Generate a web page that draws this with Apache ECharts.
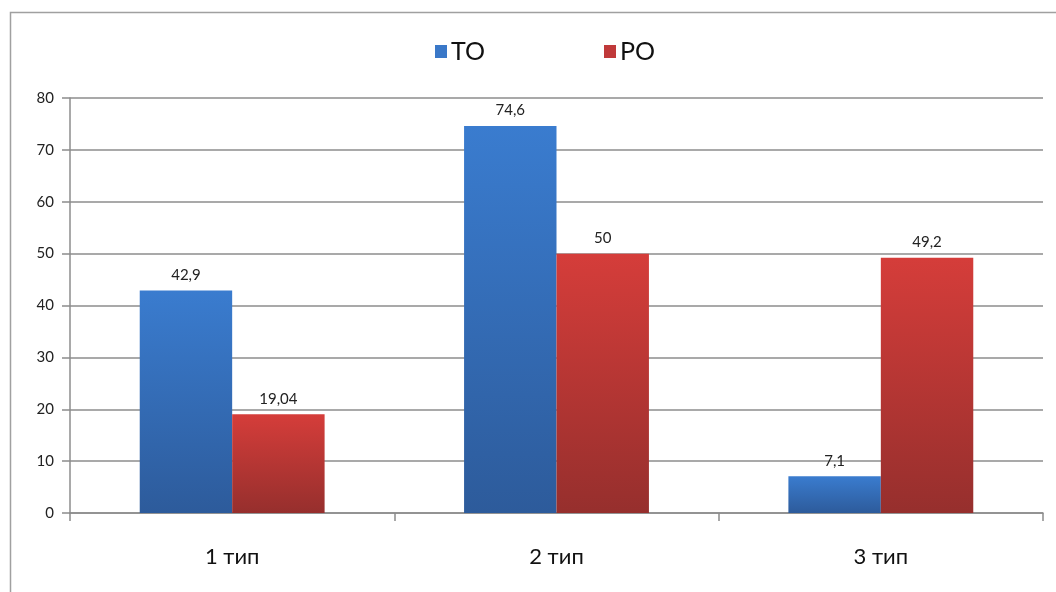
<!DOCTYPE html>
<html>
<head>
<meta charset="utf-8">
<script src="https://cdn.jsdelivr.net/npm/echarts@6/dist/echarts.min.js"></script>
<style>html,body{margin:0;padding:0;background:#fff}#c{width:1056px;height:592px}</style>
</head>
<body>
<div id="c"></div>
<script>
var categories = ['1 тип', '2 тип', '3 тип'];
var seriesNames = ['ТО', 'РО'];
var toValues = [42.9, 74.6, 7.1];
var roValues = [19.04, 50, 49.2];
var yTicks = [0, 10, 20, 30, 40, 50, 60, 70, 80];

var chart = echarts.init(document.getElementById('c'));
function grad(top, bottom) {
  return new echarts.graphic.LinearGradient(0, 0, 0, 1, [
    {offset: 0, color: top}, {offset: 1, color: bottom}
  ]);
}
var FONT = 'Lato, "Open Sans", sans-serif';
var labelCfg = {
  show: true, position: 'top', distance: 8,
  color: '#222', fontSize: 15, fontFamily: FONT,
  formatter: function (p) { return String(p.value).replace('.', ','); }
};
chart.setOption({
  animation: false,
  graphic: [{
    type: 'rect', shape: {x: 10.5, y: 12.5, width: 1200, height: 800},
    style: {fill: 'none', stroke: '#a0a0a0', lineWidth: 1.5}, silent: true, z: -1
  }],
  legend: {
    top: 34, left: 430, itemGap: 119, itemWidth: 12, itemHeight: 13,
    icon: 'rect',
    textStyle: {fontSize: 25, color: '#111', fontFamily: FONT, padding: [0, 0, 0, -1]},
    data: [
      {name: seriesNames[0], itemStyle: {color: '#3a78c8'}},
      {name: seriesNames[1], itemStyle: {color: '#c0393a'}}
    ]
  },
  grid: {left: 70, right: 13, top: 98, bottom: 79, containLabel: false},
  xAxis: {
    type: 'category', data: categories,
    axisLine: {lineStyle: {color: '#8c8c8c', width: 1.5}},
    axisTick: {show: true, length: 8, lineStyle: {color: '#8c8c8c', width: 1.5}},
    axisLabel: {fontSize: 22, color: '#111', fontFamily: FONT, margin: 33}
  },
  yAxis: {
    type: 'value', min: yTicks[0], max: yTicks[yTicks.length - 1], interval: 10,
    axisLine: {show: true, lineStyle: {color: '#8c8c8c', width: 1.5}},
    axisTick: {show: true, length: 8, lineStyle: {color: '#8c8c8c', width: 1.5}},
    axisLabel: {fontSize: 15, color: '#222', fontFamily: FONT, margin: 16},
    splitLine: {lineStyle: {color: '#8c8c8c', width: 1.5}}
  },
  series: [
    {
      name: seriesNames[0], type: 'bar', data: toValues,
      barGap: '0%', barCategoryGap: '43%',
      itemStyle: {color: grad('#3a7ccf', '#2d5b9b')},
      label: labelCfg
    },
    {
      name: seriesNames[1], type: 'bar', data: roValues,
      itemStyle: {color: grad('#d53d3a', '#962f2d')},
      label: labelCfg
    }
  ]
});
</script>
</body>
</html>
